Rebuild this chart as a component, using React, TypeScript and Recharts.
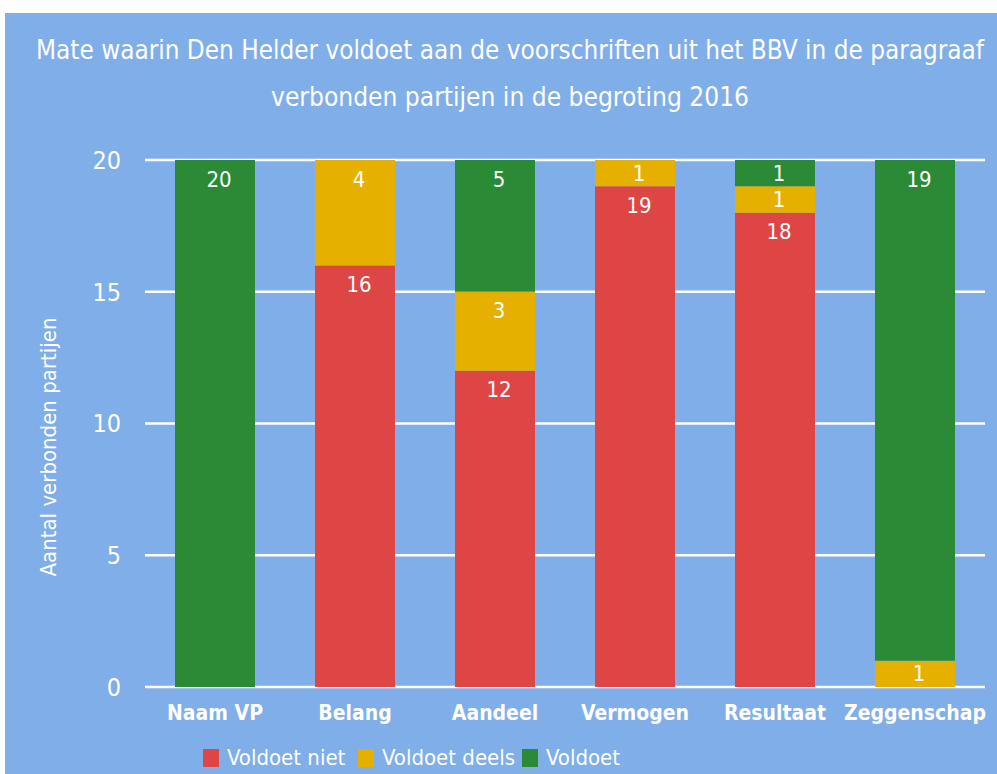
import React from 'react';
import { BarChart, Bar, XAxis, YAxis, CartesianGrid, Legend, LabelList } from 'recharts';

const categories = ['Naam VP', 'Belang', 'Aandeel', 'Vermogen', 'Resultaat', 'Zeggenschap'];
const voldoetNiet = [0, 16, 12, 19, 18, 0];
const voldoetDeels = [0, 4, 3, 1, 1, 1];
const voldoet = [20, 0, 5, 0, 1, 19];
const yTicks = [0, 5, 10, 15, 20];

const data = categories.map((name, i) => ({
  name,
  niet: voldoetNiet[i],
  deels: voldoetDeels[i],
  voldoet: voldoet[i],
}));

const bg = '#80aee8';
const font = '"Liberation Sans Narrow", "DejaVu Sans Condensed", "Roboto", sans-serif';

const series = [
  { key: 'niet', name: 'Voldoet niet', color: '#de4645', w: 155 },
  { key: 'deels', name: 'Voldoet deels', color: '#e6b000', w: 164 },
  { key: 'voldoet', name: 'Voldoet', color: '#2a8a36', w: 120 },
];

const SegmentLabel: React.FC<any> = ({ x, y, width, height, value }) => {
  if (!value) return null;
  const off = Math.min(19, height / 2);
  return (
    <text x={x + width / 2 + 4} y={y + off} fill="#fff" fontSize={22} fontFamily={font}
      textAnchor="middle" dominantBaseline="central">
      {value}
    </text>
  );
};

const LegendContent: React.FC<any> = () => (
  <div style={{ position: 'relative', height: 28, fontFamily: font, fontSize: 22, color: '#fff' }}>
    {series.map((s, i) => {
      const left = 203 + series.slice(0, i).reduce((acc, p) => acc + p.w, 0);
      return (
        <div key={s.key} style={{ position: 'absolute', left, top: 0, display: 'flex', alignItems: 'center', whiteSpace: 'nowrap' }}>
          <span style={{ display: 'inline-block', width: 16, height: 18, background: s.color, marginRight: 8 }} />
          <span>{s.name}</span>
        </div>
      );
    })}
  </div>
);

const YLabel: React.FC<any> = () => {
  const cy = 447;
  return (
    <text x={48} y={cy} transform={`rotate(-90, 48, ${cy})`} fill="#fff" fontSize={22}
      fontFamily={font} textAnchor="middle" dominantBaseline="central">
      Aantal verbonden partijen
    </text>
  );
};

export default function App() {
  return (
    <div style={{ position: 'absolute', left: 0, top: 0, width: 997, height: 774, background: '#fff' }}>
      <div style={{ position: 'absolute', left: 5, top: 13, width: 992, height: 761, background: bg }} />
      <svg style={{ position: 'absolute', left: 0, top: 0 }} width={997} height={130}>
        <text x={510} y={50} fill="#fff" fontSize={26} fontFamily={font} textAnchor="middle"
          dominantBaseline="central" textLength={948} lengthAdjust="spacingAndGlyphs">
          Mate waarin Den Helder voldoet aan de voorschriften uit het BBV in de paragraaf
        </text>
        <text x={510} y={97} fill="#fff" fontSize={26} fontFamily={font} textAnchor="middle"
          dominantBaseline="central" textLength={478} lengthAdjust="spacingAndGlyphs">
          verbonden partijen in de begroting 2016
        </text>
      </svg>
      <div style={{ position: 'absolute', left: 0, top: 0 }}>
        <BarChart width={997} height={774} data={data}
          margin={{ top: 160, right: 12, left: 0, bottom: 19 }} barSize={80}>
          <CartesianGrid horizontal vertical={false} stroke="#fff" strokeWidth={2.5} />
          <XAxis dataKey="name" axisLine={false} tickLine={false} height={40}
            tick={{ fill: '#fff', fontSize: 21, fontWeight: 'bold', fontFamily: font }} tickMargin={12} />
          <YAxis domain={[0, 20]} ticks={yTicks} width={145} axisLine={false} tickLine={false}
            tickMargin={18} tick={{ fill: '#fff', fontSize: 25, fontFamily: font }}
            label={<YLabel />} />
          <Legend verticalAlign="bottom" content={<LegendContent />}
            wrapperStyle={{ left: 0, top: 745, width: 997 }} />
          {series.map((s) => (
            <Bar key={s.key} dataKey={s.key} name={s.name} stackId="a" fill={s.color} isAnimationActive={false}>
              <LabelList dataKey={s.key} content={<SegmentLabel />} />
            </Bar>
          ))}
        </BarChart>
      </div>
    </div>
  );
}
